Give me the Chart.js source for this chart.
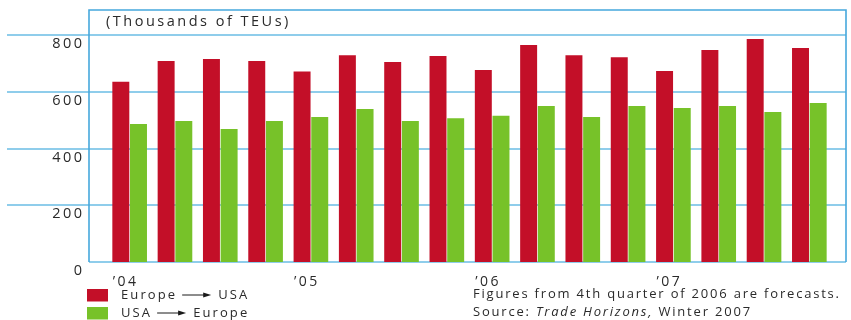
<!DOCTYPE html>
<html>
<head>
<meta charset="utf-8">
<title>Transatlantic container traffic</title>
<script src="https://cdn.jsdelivr.net/npm/chart.js@4/dist/chart.umd.min.js"></script>
<style>
  html, body { margin: 0; padding: 0; background: #fff; }
  #wrap { width: 851px; height: 320px; position: relative; }
</style>
</head>
<body>
<div id="wrap"><canvas id="c" width="851" height="320"></canvas></div>
<script>
// Quarterly container volumes, thousands of TEUs
const quarters = [
  '2004 Q1', '2004 Q2', '2004 Q3', '2004 Q4',
  '2005 Q1', '2005 Q2', '2005 Q3', '2005 Q4',
  '2006 Q1', '2006 Q2', '2006 Q3', '2006 Q4',
  '2007 Q1', '2007 Q2', '2007 Q3', '2007 Q4'
];
const yearTickLabels = [
  '\u201904', '', '', '', '\u201905', '', '', '',
  '\u201906', '', '', '', '\u201907', '', '', ''
];
const europeToUsa = [635, 708, 715, 708, 671, 729, 705, 726, 677, 765, 729, 722, 673, 747, 786, 754];
const usaToEurope = [486, 497, 469, 497, 511, 539, 497, 507, 515, 550, 511, 550, 543, 550, 529, 560];
const yTicks = [0, 200, 400, 600, 800];

const RED = '#c30f28';
const GREEN = '#77c229';
const GRID = '#8fcdeb';
const FRAME = '#46a8dd';
const TEXT = '#2a2a2a';
const FONT = '"Open Sans", "DejaVu Sans", sans-serif';

// Frame, extended grid lines and the unit caption, drawn beneath the bars
const framePlugin = {
  id: 'frame',
  beforeDraw(chart) {
    // wide tracking for the axis labels
    chart.ctx.letterSpacing = '2.5px';
  },
  beforeDatasetsDraw(chart) {
    const { ctx, chartArea: a, scales: { y } } = chart;
    const L = a.left - 18, R = a.right + 14, T = 10;
    const y0 = Math.round(y.getPixelForValue(0));
    ctx.save();
    ctx.lineWidth = 2;
    ctx.strokeStyle = GRID;
    yTicks.forEach(v => {
      if (v === 0) return;
      const py = Math.round(y.getPixelForValue(v));
      ctx.beginPath(); ctx.moveTo(7, py); ctx.lineTo(R, py); ctx.stroke();
    });
    ctx.beginPath(); ctx.moveTo(L, y0); ctx.lineTo(R, y0); ctx.stroke();

    ctx.strokeStyle = FRAME;
    ctx.lineWidth = 1.6;
    ctx.beginPath();
    ctx.moveTo(L, y0); ctx.lineTo(L, T); ctx.lineTo(R, T); ctx.lineTo(R, y0);
    ctx.stroke();

    ctx.fillStyle = TEXT;
    ctx.font = '14.5px ' + FONT;
    ctx.letterSpacing = '2.5px';
    ctx.textAlign = 'left';
    ctx.textBaseline = 'middle';
    ctx.fillText('(Thousands of TEUs)', L + 17, 22);
    ctx.restore();
  },
  afterDraw(chart) {
    const ctx = chart.ctx;
    ctx.save();
    ctx.textAlign = 'left';
    ctx.textBaseline = 'middle';
    ctx.fillStyle = TEXT;
    ctx.font = '13px ' + FONT;
    ctx.letterSpacing = '2.1px';

    const arrow = (x1, x2, yy) => {
      ctx.save();
      ctx.strokeStyle = '#1a1a1a';
      ctx.fillStyle = '#1a1a1a';
      ctx.lineWidth = 1;
      ctx.beginPath(); ctx.moveTo(x1, yy); ctx.lineTo(x2 - 6, yy); ctx.stroke();
      ctx.beginPath(); ctx.moveTo(x2, yy); ctx.lineTo(x2 - 8, yy - 2.6); ctx.lineTo(x2 - 8, yy + 2.6); ctx.closePath(); ctx.fill();
      ctx.restore();
    };

    // legend
    const rows = [
      { color: RED, from: 'Europe', to: 'USA', y: 295 },
      { color: GREEN, from: 'USA', to: 'Europe', y: 313 }
    ];
    rows.forEach(r => {
      ctx.fillStyle = r.color;
      ctx.fillRect(87, r.y - 6, 21, 12.5);
      ctx.fillStyle = TEXT;
      ctx.fillText(r.from, 121, r.y);
      const w = ctx.measureText(r.from).width;
      const ax = 121 + w + 5;
      arrow(ax, ax + 29, r.y);
      ctx.fillText(r.to, ax + 36, r.y);
    });

    // notes
    ctx.letterSpacing = '1.8px';
    ctx.font = '13px ' + FONT;
    ctx.fillText('Figures from 4th quarter of 2006 are forecasts.', 473, 294);
    let x = 473;
    const parts = [['Source: ', ''], ['Trade Horizons,', 'italic '], [' Winter 2007', '']];
    parts.forEach(([t, style]) => {
      ctx.font = style + '13px ' + FONT;
      ctx.fillText(t, x, 312);
      x += ctx.measureText(t).width;
    });
    ctx.restore();
  }
};

new Chart(document.getElementById('c'), {
  type: 'bar',
  data: {
    labels: quarters,
    datasets: [
      { label: 'Europe \u2192 USA', data: europeToUsa, backgroundColor: RED },
      { label: 'USA \u2192 Europe', data: usaToEurope, backgroundColor: GREEN }
    ]
  },
  options: {
    responsive: false,
    animation: false,
    layout: { padding: { top: 35, right: 19, left: 0, bottom: 0 } },
    datasets: { bar: { categoryPercentage: 0.78, barPercentage: 0.96 } },
    plugins: { legend: { display: false }, tooltip: { enabled: false }, title: { display: false } },
    scales: {
      x: {
        grid: { display: false },
        border: { display: false },
        afterFit: s => { s.height = 58; },
        ticks: {
          autoSkip: false,
          maxRotation: 0,
          align: 'start',
          labelOffset: -17,
          padding: 4,
          color: TEXT,
          font: { family: FONT, size: 14 },
          callback: (v, i) => yearTickLabels[i]
        }
      },
      y: {
        min: 0,
        max: 800,
        grid: { display: false, drawTicks: false },
        border: { display: false },
        afterFit: s => { s.width = 107; },
        afterBuildTicks: s => { s.ticks = yTicks.map(v => ({ value: v })); },
        ticks: {
          padding: 22.5,
          labelOffset: 9,
          color: TEXT,
          font: { family: FONT, size: 14.5 },
          callback: v => String(v)
        }
      }
    }
  },
  plugins: [framePlugin]
});
</script>
</body>
</html>
